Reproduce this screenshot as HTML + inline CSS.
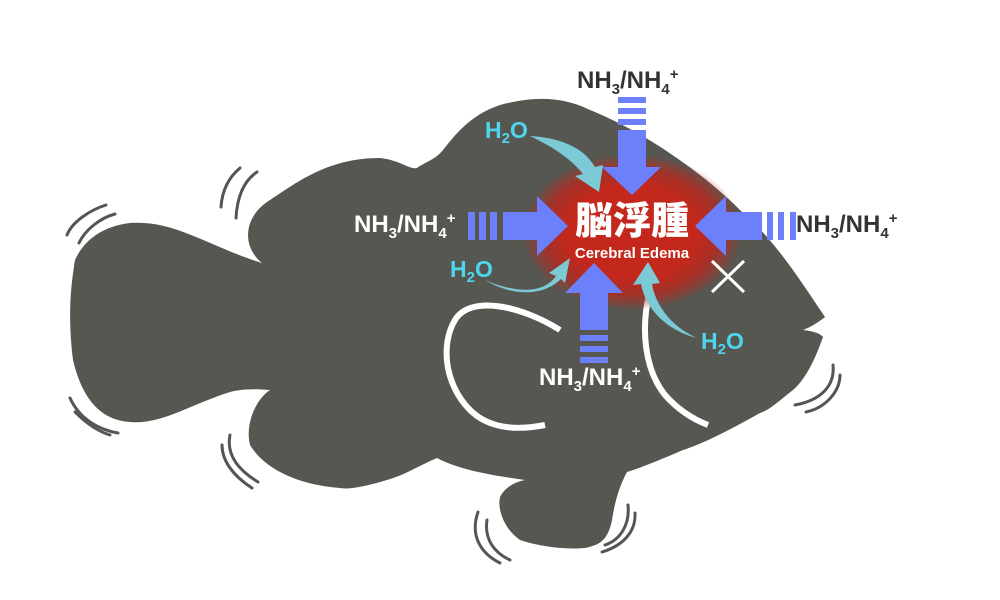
<!DOCTYPE html>
<html><head><meta charset="utf-8"><style>
html,body{margin:0;padding:0;background:#fff;}
svg{display:block;}
text{font-family:"Liberation Sans","Noto Sans CJK JP",sans-serif;font-weight:bold;}
</style></head><body>
<svg width="1000" height="600" viewBox="0 0 1000 600" xmlns="http://www.w3.org/2000/svg">
<defs>
<radialGradient id="g" cx="50%" cy="50%" r="50%">
<stop offset="0" stop-color="#c4281c"/>
<stop offset="0.6" stop-color="#c4281c"/>
<stop offset="0.8" stop-color="#b02a20" stop-opacity="0.85"/>
<stop offset="1" stop-color="#c4281c" stop-opacity="0"/>
</radialGradient>
</defs>
<path fill="#575752" d="M130,223 C175,220 205,245 262,263 C240,245 245,215 270,200 C300,180 330,158 380,158 C400,160 410,170 417,168 C425,162 435,160 443,150 C455,135 470,115 500,105 C530,97 560,95 590,110 C640,130 700,170 740,210 C775,240 800,280 825,317 C815,325 808,328 803,330 C812,331 820,333 823,337 C815,360 805,380 793,390 C780,400 770,410 760,413 C730,430 700,445 683,450 C660,460 640,468 627,472 C620,485 615,500 612,520 C608,540 600,545 585,548 C560,550 535,545 520,540 C505,530 497,510 500,497 C505,487 515,482 525,480 C490,475 460,470 437,458 C420,465 405,475 387,480 C370,485 350,490 340,488 C300,485 265,470 250,445 C245,425 255,400 270,390 C250,388 235,390 227,393 C190,405 160,425 130,422 C95,420 80,390 73,360 C68,320 70,290 75,260 C85,238 105,226 130,223 Z"/>
<path d="M560,330 C520,305 470,295 455,320 C440,345 445,385 470,410 C490,430 520,430 545,425" fill="none" stroke="#fff" stroke-width="6"/>
<path d="M650,290 C640,330 645,370 665,395 C680,412 695,420 708,425" fill="none" stroke="#fff" stroke-width="6"/>
<g fill="none" stroke="#555" stroke-width="3" stroke-linecap="round">
<path d="M106,205 C90,210 72,222 67,235"/><path d="M115,214 C100,218 85,230 79,243"/>
<path d="M240,168 C228,178 222,192 221,207"/><path d="M257,172 C242,182 237,200 236,218"/>
<path d="M70,398 C80,420 100,430 118,433"/><path d="M75,412 C88,425 100,432 110,435"/>
<path d="M230,435 C226,455 238,470 258,482"/><path d="M222,445 C222,460 232,475 252,488"/>
<path d="M478,512 C470,535 480,553 500,563"/><path d="M487,520 C484,540 495,553 510,560"/>
<path d="M628,505 C630,525 620,540 605,545"/><path d="M635,513 C636,530 625,545 602,552"/>
<path d="M833,365 C835,385 822,400 795,405"/><path d="M840,375 C840,392 825,408 806,412"/>
</g>
<ellipse cx="632" cy="232" rx="110" ry="78" fill="url(#g)"/>
<g fill="#6d80fb">
<rect x="618" y="97" width="28" height="6"/><rect x="618" y="108" width="28" height="6"/><rect x="618" y="119" width="28" height="6"/>
<polygon points="618,130 646,130 646,167 661,167 632,195 602,167 618,167"/>
<rect x="468" y="212" width="7" height="28"/><rect x="479" y="212" width="7" height="28"/><rect x="490" y="212" width="7" height="28"/>
<polygon points="503,212 537,212 537,196 568,226 537,256 537,240 503,240"/>
<rect x="767" y="212" width="6" height="28"/><rect x="778" y="212" width="6" height="28"/><rect x="790" y="212" width="6" height="28"/>
<polygon points="762,212 726,212 726,196 695,226 726,256 726,240 762,240"/>
<polygon points="580,330 608,330 608,293 623,293 594,263 565,293 580,293"/>
<rect x="580" y="335" width="28" height="6"/><rect x="580" y="346" width="28" height="6"/><rect x="580" y="357" width="28" height="6"/>
</g>
<g fill="#7ccad6">
<path d="M530,136 C565,138 585,150 595,167 L603,165 L599,192 L575,176 L583,174 C572,160 555,148 530,136 Z"/>
<path d="M485,280 C520,295 545,292 556,276 L549,273 L570,258 L565,283 L561,279 C545,295 515,298 485,280 Z"/>
<path d="M697,338 C668,325 655,302 652,284 L660,283 L648,262 L633,285 L641,284 C645,307 665,330 697,338 Z"/>
</g>
<g stroke="#fff" stroke-width="3"><line x1="712" y1="261" x2="744" y2="292"/><line x1="744" y1="261" x2="712" y2="292"/></g>
<text x="632" y="234" text-anchor="middle" fill="#fff" font-size="38" style="font-family:'Noto Sans CJK JP',sans-serif;font-weight:900">脳浮腫</text>
<text x="632" y="258" text-anchor="middle" fill="#fff" font-size="15">Cerebral Edema</text>
<g font-size="24">
<text x="577" y="88" fill="#333">NH<tspan font-size="15" dy="6">3</tspan><tspan dy="-6">/NH</tspan><tspan font-size="15" dy="6">4</tspan><tspan font-size="15" dy="-15">+</tspan></text>
<text x="354" y="232" fill="#fff">NH<tspan font-size="15" dy="6">3</tspan><tspan dy="-6">/NH</tspan><tspan font-size="15" dy="6">4</tspan><tspan font-size="15" dy="-15">+</tspan></text>
<text x="796" y="232" fill="#333">NH<tspan font-size="15" dy="6">3</tspan><tspan dy="-6">/NH</tspan><tspan font-size="15" dy="6">4</tspan><tspan font-size="15" dy="-15">+</tspan></text>
<text x="539" y="385" fill="#fff">NH<tspan font-size="15" dy="6">3</tspan><tspan dy="-6">/NH</tspan><tspan font-size="15" dy="6">4</tspan><tspan font-size="15" dy="-15">+</tspan></text>
</g>
<g font-size="23" fill="#4fd6ef">
<text x="485" y="138">H<tspan font-size="15" dy="5">2</tspan><tspan dy="-5">O</tspan></text>
<text x="450" y="277">H<tspan font-size="15" dy="5">2</tspan><tspan dy="-5">O</tspan></text>
<text x="701" y="349">H<tspan font-size="15" dy="5">2</tspan><tspan dy="-5">O</tspan></text>
</g>
</svg>
</body></html>
